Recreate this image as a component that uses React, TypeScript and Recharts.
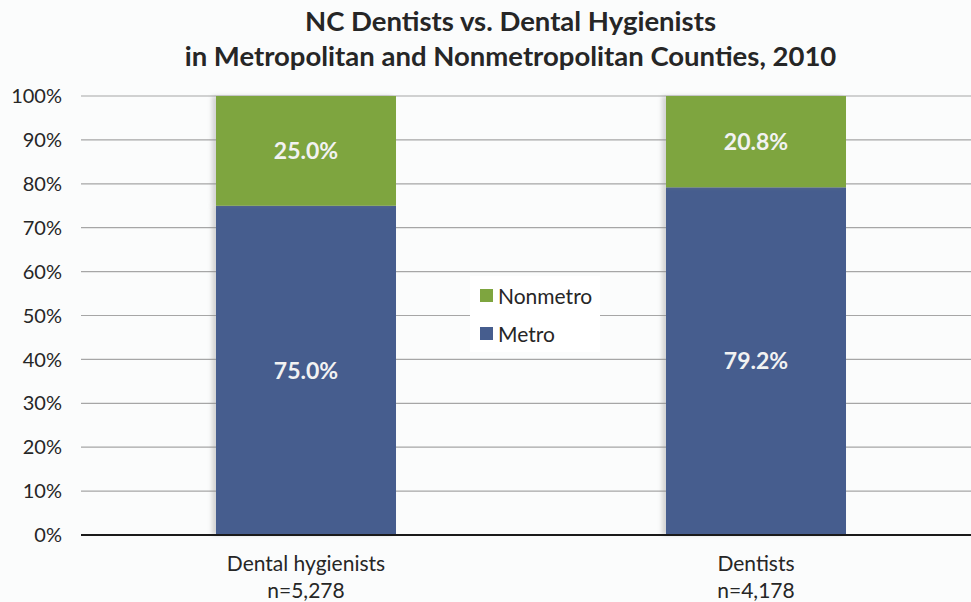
import { Bar, BarChart, CartesianGrid, LabelList, XAxis, YAxis } from "recharts";

const categories = ["Dental hygienists", "Dentists"];
const sampleSizes = ["n=5,278", "n=4,178"];
const metro = [75.0, 79.2];
const nonmetro = [25.0, 20.8];
const yTicks = [0, 10, 20, 30, 40, 50, 60, 70, 80, 90, 100];

const data = categories.map((name, i) => ({
  name,
  n: sampleSizes[i],
  metro: metro[i],
  nonmetro: nonmetro[i],
}));

const FONT = "Lato, 'Open Sans', sans-serif";
const BLUE = "#465d8e";
const GREEN = "#7ea53f";

if (typeof document !== "undefined") {
  document.body.style.margin = "0";
}

const ShadowBar = (props: any) => {
  const { x, y, width, height, fill } = props;
  return (
    <g>
      <rect x={x - 4} y={y} width={width} height={height} fill="#8a8a8a" opacity={0.35} filter="url(#blur)" />
      <rect x={x} y={y} width={width} height={height} fill={fill} />
    </g>
  );
};

const CategoryTick = (props: any) => {
  const { x, y, payload, index } = props;
  return (
    <text x={x} y={y} textAnchor="middle" fontFamily={FONT} fontSize={21} fill="#262626">
      <tspan x={x} dy={28}>{payload.value}</tspan>
      <tspan x={x} dy={27}>{sampleSizes[index]}</tspan>
    </text>
  );
};

const fmt = (v: any) => `${Number(v).toFixed(1)}%`;

export default function App() {
  return (
    <div style={{ width: 971, height: 602, position: "relative", background: "#fbfcfc", overflow: "hidden" }}>
      <div
        style={{
          position: "absolute",
          top: 3,
          left: 50,
          width: 921,
          textAlign: "center",
          fontFamily: FONT,
          fontWeight: 700,
          fontSize: 27.5,
          lineHeight: "35px",
          color: "#262626",
        }}
      >
        NC Dentists vs. Dental Hygienists
        <br />
        in Metropolitan and Nonmetropolitan Counties, 2010
      </div>
      <BarChart
        width={971}
        height={602}
        data={data}
        margin={{ top: 96, right: -10, bottom: 7, left: 0 }}
        barCategoryGap="30%"
        style={{ overflow: "visible" }}
      >
        <defs>
          <filter id="blur" x="-20%" y="-5%" width="140%" height="110%">
            <feGaussianBlur stdDeviation="2" />
          </filter>
        </defs>
        <CartesianGrid vertical={false} stroke="#a6a6a6" strokeWidth={1.2} />
        <YAxis
          width={81}
          domain={[0, 100]}
          ticks={yTicks}
          tickFormatter={(v) => `${v}%`}
          axisLine={false}
          tickLine={false}
          tickMargin={13}
          tick={{ fontFamily: FONT, fontSize: 20, fill: "#262626" }}
        />
        <XAxis
          dataKey="name"
          height={60}
          axisLine={{ stroke: "#1a1a1a", strokeWidth: 2 }}
          tickLine={false}
          tick={<CategoryTick />}
          interval={0}
        />
        <Bar dataKey="metro" stackId="a" fill={BLUE} isAnimationActive={false} shape={<ShadowBar />}>
          <LabelList dataKey="metro" position="center" formatter={fmt} fill="#f2f2f2" fontFamily={FONT} fontWeight={700} fontSize={23} />
        </Bar>
        <Bar dataKey="nonmetro" stackId="a" fill={GREEN} isAnimationActive={false} shape={<ShadowBar />}>
          <LabelList dataKey="nonmetro" position="center" formatter={fmt} fill="#f2f2f2" fontFamily={FONT} fontWeight={700} fontSize={23} />
        </Bar>
      </BarChart>
      <div
        style={{
          position: "absolute",
          left: 470,
          top: 276,
          width: 130,
          height: 76,
          background: "#ffffff",
          fontFamily: FONT,
          fontSize: 21,
          color: "#262626",
        }}
      >
        {[
          { label: "Nonmetro", color: GREEN },
          { label: "Metro", color: BLUE },
        ].map((item) => (
          <div key={item.label} style={{ display: "flex", alignItems: "center", height: 38, paddingLeft: 10 }}>
            <span style={{ display: "inline-block", width: 13, height: 13, background: item.color, marginRight: 5 }} />
            {item.label}
          </div>
        ))}
      </div>
    </div>
  );
}
